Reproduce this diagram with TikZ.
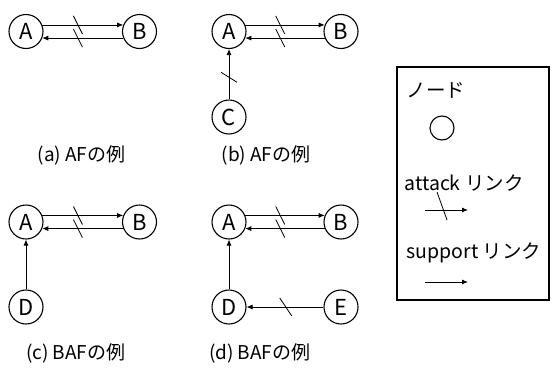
\documentclass[tikz,border=0pt]{standalone}
\usepackage{fontspec}
\setmainfont{Noto Sans CJK JP}
\usetikzlibrary{arrows.meta}
\begin{document}
\begin{tikzpicture}[x=1pt,y=-1pt,
  arg/.style={circle,draw,line width=1.1pt,minimum size=34pt,inner sep=0pt,
    font=\fontsize{22}{22}\selectfont},
  link/.style={line width=0.8pt,-{Latex[length=6pt,width=5pt]}},
  cut/.style={line width=0.8pt},
  caption/.style={anchor=east,font=\fontsize{19}{19}\selectfont},
  legend/.style={anchor=west,font=\fontsize{19.5}{19.5}\selectfont}]
\useasboundingbox (0,0) rectangle (553,367);

% (a) AF
\node[arg] (a1) at (26,31.5) {A};
\node[arg] (b1) at (139.5,31.5) {B};
\draw[link] (a1.22) -- coordinate[pos=.44] (ca1) (b1.158);
\draw[link] (b1.-158) -- coordinate[pos=.56] (ca2) (a1.-22);
\draw[cut] (ca1) ++(-4.5,-9) -- ++(9,18);
\draw[cut] (ca2) ++(-4.5,-9) -- ++(9,18);
\node[caption] (capa) at (129,155) {(a) AFの例};

% (b) AF
\node[arg] (a2) at (229,31.5) {A};
\node[arg] (b2) at (341,31.5) {B};
\node[arg] (c2) at (229,117) {C};
\draw[link] (a2.22) -- coordinate[pos=.44] (cb1) (b2.158);
\draw[link] (b2.-158) -- coordinate[pos=.56] (cb2) (a2.-22);
\draw[link] (c2) -- coordinate[pos=.44] (cb3) (a2);
\draw[cut] (cb1) ++(-4.5,-9) -- ++(9,18);
\draw[cut] (cb2) ++(-4.5,-9) -- ++(9,18);
\draw[cut] (cb3) ++(-8,-5) -- ++(16,10);
\node[caption] (capb) at (314,155) {(b) AFの例};

% (c) BAF
\node[arg] (a3) at (26,222) {A};
\node[arg] (b3) at (139.5,222) {B};
\node[arg] (d3) at (26,307) {D};
\draw[link] (a3.22) -- coordinate[pos=.44] (cc1) (b3.158);
\draw[link] (b3.-158) -- coordinate[pos=.56] (cc2) (a3.-22);
\draw[link] (d3) -- (a3);
\draw[cut] (cc1) ++(-4.5,-9) -- ++(9,18);
\draw[cut] (cc2) ++(-4.5,-9) -- ++(9,18);
\node[caption] (capc) at (129,353) {(c) BAFの例};

% (d) BAF
\node[arg] (a4) at (229,222) {A};
\node[arg] (b4) at (341,222) {B};
\node[arg] (d4) at (229,307) {D};
\node[arg] (e4) at (341,307) {E};
\draw[link] (a4.22) -- coordinate[pos=.44] (cd1) (b4.158);
\draw[link] (b4.-158) -- coordinate[pos=.56] (cd2) (a4.-22);
\draw[link] (d4) -- (a4);
\draw[link] (e4) -- coordinate[pos=.49] (cd3) (d4);
\draw[cut] (cd1) ++(-4.5,-9) -- ++(9,18);
\draw[cut] (cd2) ++(-4.5,-9) -- ++(9,18);
\draw[cut] (cd3) ++(-6,-9) -- ++(12,18);
\node[caption] (capd) at (314,353) {(d) BAFの例};

% legend
\draw[line width=1.1pt] (397,67) rectangle (549,300);
\node[legend] (lnode) at (403,90) {ノード};
\draw[line width=1.1pt] (442,128) circle (12);
\node[legend] (latt) at (401,183) {attack リンク};
\coordinate (la0) at (425,210);
\coordinate (la1) at (468,210);
\draw[link] (la0) -- (la1);
\draw[cut] (437,192) -- (447,220);
\node[legend] (lsup) at (403,253) {support リンク};
\coordinate (ls0) at (425,282);
\coordinate (ls1) at (468,282);
\draw[link] (ls0) -- (ls1);
\end{tikzpicture}
\end{document}
